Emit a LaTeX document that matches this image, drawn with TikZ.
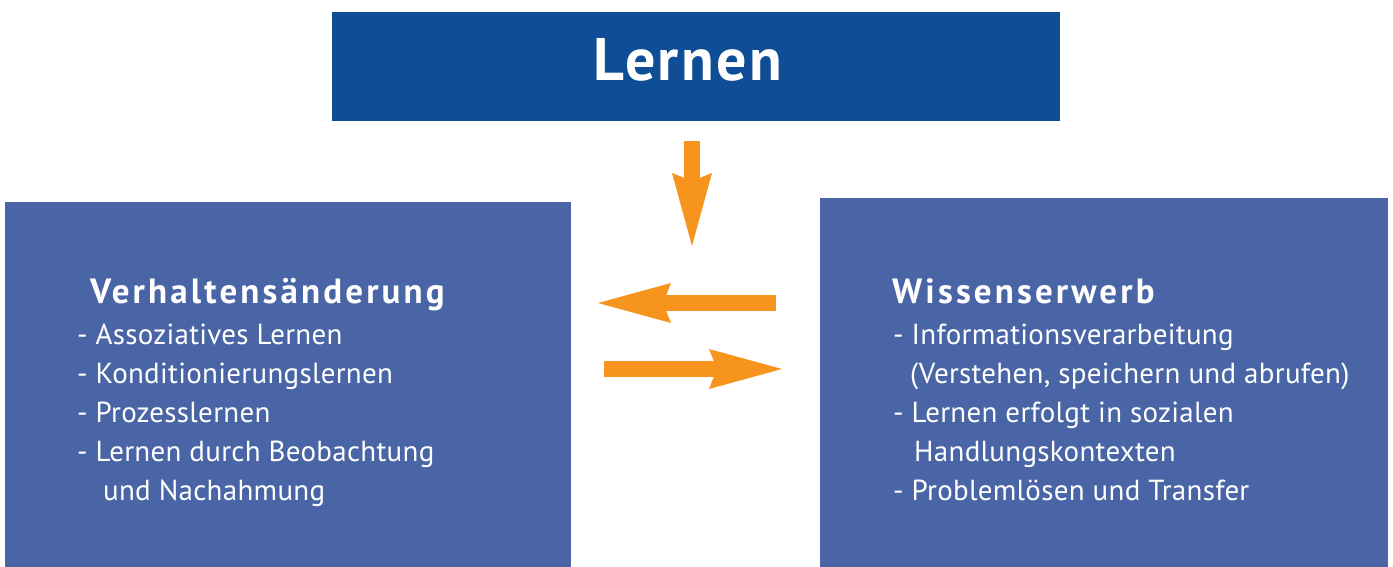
\documentclass[tikz,border=0pt]{standalone}
\usepackage{fontspec}
\setmainfont{PT Sans}
\usetikzlibrary{arrows.meta}
\definecolor{lernblue}{HTML}{0F4E97}
\definecolor{sideblue}{HTML}{4A65A6}
\definecolor{arroworange}{HTML}{F7941D}
\begin{document}
\begin{tikzpicture}[x=1pt,y=-1pt,
    topbox/.style={fill=lernblue,minimum width=728pt,minimum height=109pt,inner sep=0pt},
    title/.style={anchor=base,inner sep=0pt,text=white,
      font=\fontsize{60}{60}\selectfont\bfseries\addfontfeatures{LetterSpace=4}},
    sidebox/.style={fill=sideblue,anchor=north west,inner sep=0pt},
    heading/.style={anchor=base west,inner sep=0pt,text=white,
      font=\fontsize{35}{35}\selectfont\bfseries\addfontfeatures{LetterSpace=9}},
    items/.style={anchor=base west,inner sep=0pt,text=white,align=left,
      font=\fontsize{29}{38.8}\selectfont\addfontfeatures{LetterSpace=1}},
    flow/.style={draw=arroworange,line width=16pt,
      -{Stealth[length=73pt,width=40pt,inset=8pt,line width=0pt,fill=arroworange]}}]
  \useasboundingbox (0,0) rectangle (1393,567);
  \node[topbox] (lernen) at (696,66.5) {};
  \node[title] (lernentext) at (688,81) {Lernen};
  \node[sidebox,minimum width=566pt,minimum height=365pt] (verhalten) at (5,202) {};
  \node[sidebox,minimum width=568pt,minimum height=369pt] (wissen) at (820,198) {};

  \node[heading] (vhead) at (90,303) {Verhaltensänderung};
  \node[items] (vlist) at (77,500) {-\ Assoziatives Lernen\\
    -\ Konditionierungslernen\\
    -\ Prozesslernen\\
    -\ Lernen durch Beobachtung\\
    \hspace{26pt}und Nachahmung};

  \node[heading] (whead) at (892,303) {Wissenserwerb};
  \node[items] (wlist) at (893,500) {-\ Informationsverarbeitung\\
    \hspace{17pt}(Verstehen, speichern und abrufen)\\
    -\ Lernen erfolgt in sozialen\\
    \hspace{21pt}Handlungskontexten\\
    -\ Problemlösen und Transfer};

  \coordinate (downfrom) at (692,141);
  \coordinate (downto) at (692,246);
  \coordinate (leftfrom) at (776,303);
  \coordinate (leftto) at (598,303);
  \coordinate (rightfrom) at (604,369);
  \coordinate (rightto) at (782,369);
  \draw[flow] (downfrom) -- (downto);
  \draw[flow] (leftfrom) -- (leftto);
  \draw[flow] (rightfrom) -- (rightto);
\end{tikzpicture}
\end{document}
